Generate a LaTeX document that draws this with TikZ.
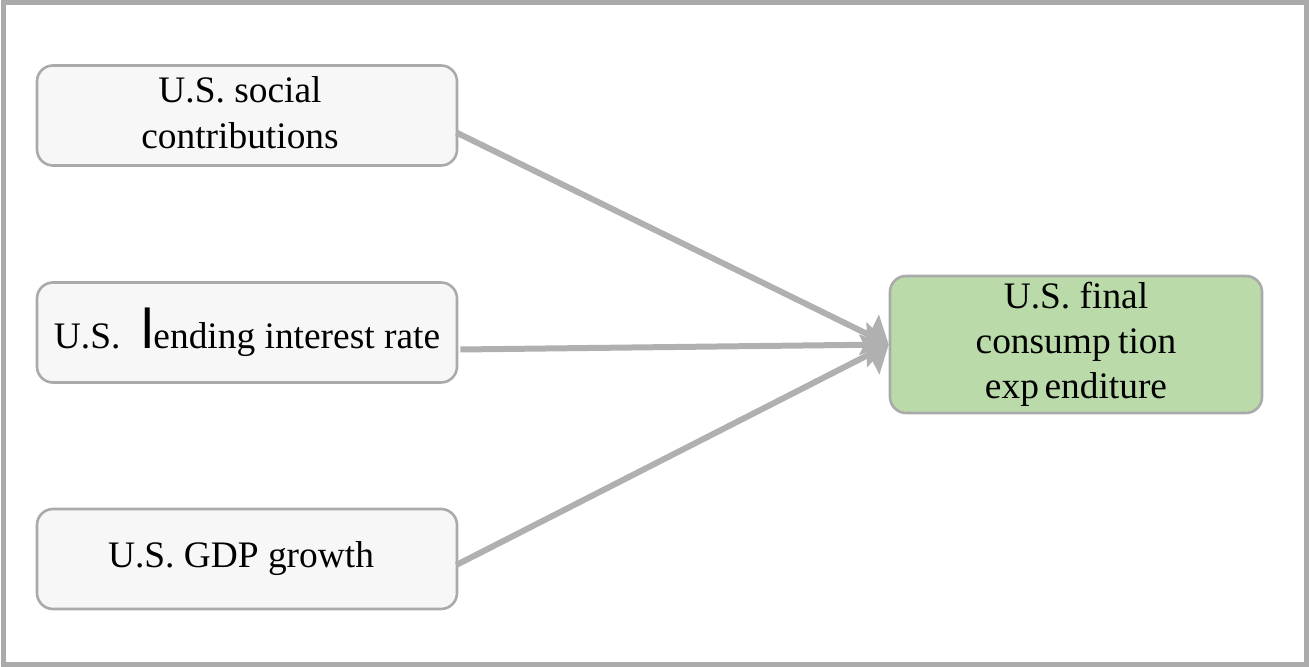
\documentclass[tikz,border=0pt]{standalone}
\usepackage{fontspec}
\setmainfont{Liberation Serif}
\setsansfont{Liberation Sans}
\usetikzlibrary{arrows.meta,calc}
\definecolor{frame}{HTML}{AAAAAA}
\definecolor{boxfill}{HTML}{F7F7F7}
\definecolor{greenfill}{HTML}{BADBA9}
\definecolor{arrowgray}{HTML}{B0B0B0}
\tikzset{
  srcbox/.style={draw=frame, line width=1.3pt, fill=boxfill, rounded corners=8pt,
    minimum width=210pt, minimum height=50pt, align=center, inner sep=0pt,
    font=\fontsize{18.7}{22.5}\selectfont},
  tgtbox/.style={draw=frame, line width=1.3pt, fill=greenfill, rounded corners=8pt,
    minimum width=186pt, minimum height=68.5pt, align=center, inner sep=0pt,
    font=\fontsize{18.7}{22.5}\selectfont},
  conn/.style={draw=arrowgray, line width=3pt, -{Triangle[length=11pt,width=22pt]}},
}
\begin{document}
\begin{tikzpicture}[x=0.5pt,y=-0.5pt]
\useasboundingbox (0,0) rectangle (1309,667);
\draw[frame, line width=2.5pt] (3,3) rectangle (1306,664);
\node[srcbox] (b1) at (247,115.5) {\begin{tabular}{@{}c@{}}\rule{0pt}{17pt}U.S. social\\[0.5pt]contributions\end{tabular}\hspace{7pt}};
\node[srcbox] (b2) at (247,332.5) {U.S.\hspace{0.55em}{\sffamily\fontsize{28}{28}\selectfont l}ending interest rate};
\node[srcbox] (b3) at (247,559) {U.S. GDP growth\hspace{6pt}};
\node[tgtbox] (t) at (1076,344.5) {\begin{tabular}{@{}c@{}}U.S. final\hspace{4pt}\\consump\hspace{0.2em}tion\\exp\hspace{0.15em}enditure\end{tabular}};
\draw[conn] ([yshift=-8.5pt,xshift=-1pt]b1.east) -- (t.west);
\draw[conn] ([yshift=-8.5pt,xshift=1pt]b2.east) -- (t.west);
\draw[conn] ([yshift=-3pt,xshift=-1pt]b3.east) -- (t.west);
\end{tikzpicture}
\end{document}
